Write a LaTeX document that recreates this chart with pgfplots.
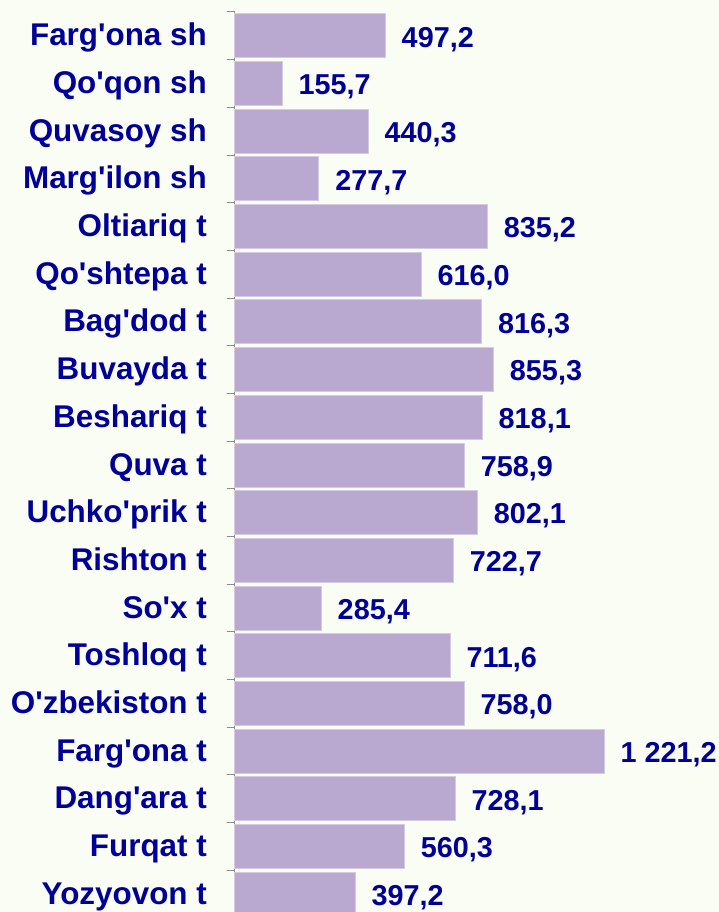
\documentclass[border=0pt]{standalone}
\usepackage{pgfplots}
\pgfplotsset{compat=1.18}
\usepackage{fontspec}
\setmainfont{Liberation Sans}
\definecolor{txt}{RGB}{0,0,153}
\definecolor{barc}{RGB}{185,168,207}
\definecolor{bare}{RGB}{212,202,226}
\definecolor{bg}{RGB}{250,253,244}
\definecolor{axc}{RGB}{140,140,140}
\newcommand\q{\textquotesingle}
\begin{document}
\begin{tikzpicture}
\fill[bg] (-235pt,0) rectangle (483.5pt,912pt);
\begin{axis}[
  at={(0,-6pt)}, anchor=south west,
  scale only axis, width=483.5pt, height=906pt,
  xbar, bar width=44pt,
  xmin=0, xmax=1600,
  ymin=-0.5, ymax=18.5, y dir=reverse,
  enlarge y limits=false,
  axis x line=none, axis y line=left,
  axis line style={-, draw=axc, line width=1pt},
  ytick={0,...,18},
  yticklabels={Farg\q ona sh, Qo\q qon sh, Quvasoy sh, Marg\q ilon sh, Oltiariq t, Qo\q shtepa t, Bag\q dod t, Buvayda t, Beshariq t, Quva t, Uchko\q prik t, Rishton t, So\q x t, Toshloq t, O\q zbekiston t, Farg\q ona t, Dang\q ara t, Furqat t, Yozyovon t},
  major tick length=0pt,
  minor ytick={-0.5,0.5,...,18.5},
  minor tick length=8pt, tick align=outside,
  minor tick style={draw=axc, line width=1pt},
  yticklabel style={font=\fontsize{31.4}{36}\selectfont\bfseries, text=txt, inner sep=0pt, anchor=base east, xshift=-28pt, yshift=-10pt},
  nodes near coords,
  /pgf/number format/.cd, fixed, fixed zerofill, precision=1, use comma, 1000 sep={\ }, assume math mode=true,
  /pgfplots/.cd,
  every node near coord/.append style={font=\fontsize{28.8}{34}\selectfont\bfseries, text=txt, inner sep=0pt, anchor=base west, xshift=16pt, yshift=-11.3pt},
  clip=false,
]
\addplot[fill=barc, draw=bare, line width=1pt] coordinates {
(497.2,0) (155.7,1) (440.3,2) (277.7,3) (835.2,4) (616.0,5) (816.3,6) (855.3,7) (818.1,8) (758.9,9)
(802.1,10) (722.7,11) (285.4,12) (711.6,13) (758.0,14) (1221.2,15) (728.1,16) (560.3,17) (397.2,18)
};
\end{axis}
\pgfresetboundingbox
\useasboundingbox (-235pt,0) rectangle (483.5pt,912pt);
\end{tikzpicture}
\end{document}
